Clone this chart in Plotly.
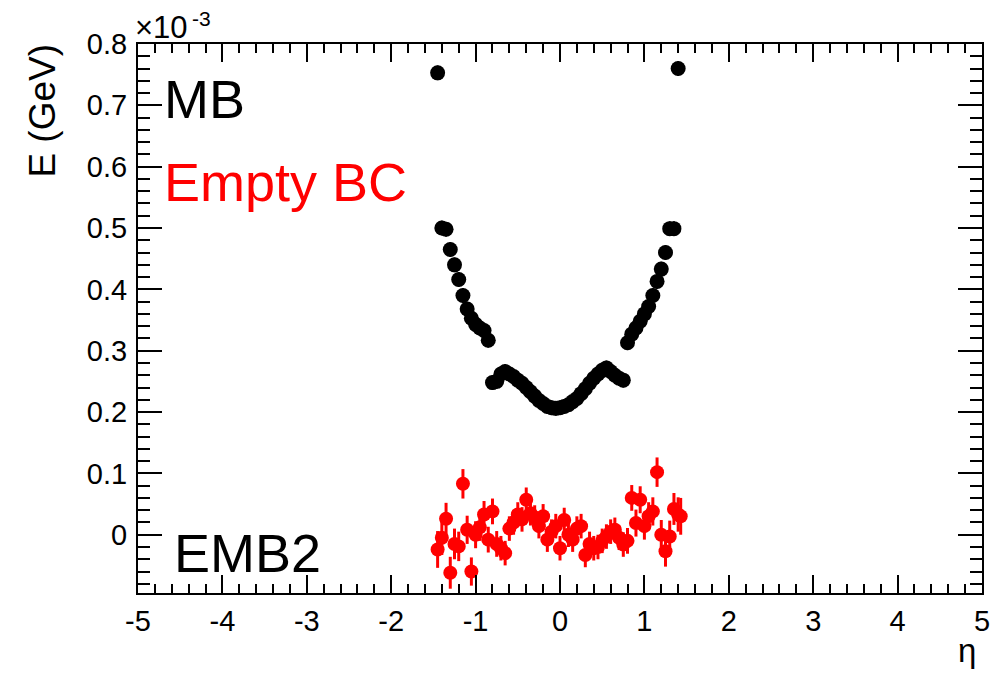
import plotly.graph_objects as go

# MB (black) — E in units of 1e-3 GeV
mb_eta = [-1.45, -1.40, -1.35, -1.30, -1.25, -1.20, -1.15, -1.10, -1.05, -1.00,
          -0.95, -0.90, -0.85, -0.80, -0.75, -0.70, -0.65, -0.60, -0.55, -0.50,
          -0.45, -0.40, -0.35, -0.30, -0.25, -0.20, -0.15, -0.10, -0.05, 0.00,
          0.05, 0.10, 0.15, 0.20, 0.25, 0.30, 0.35, 0.40, 0.45, 0.50,
          0.55, 0.60, 0.65, 0.70, 0.75, 0.80, 0.85, 0.90, 0.95, 1.00,
          1.05, 1.10, 1.15, 1.20, 1.25, 1.30, 1.35, 1.40]
mb_E = [0.753, 0.500, 0.498, 0.465, 0.440, 0.416, 0.390, 0.368, 0.353, 0.343,
        0.337, 0.333, 0.317, 0.248, 0.250, 0.262, 0.266, 0.262, 0.258, 0.252,
        0.247, 0.240, 0.233, 0.226, 0.219, 0.214, 0.209, 0.207, 0.206, 0.207,
        0.209, 0.212, 0.217, 0.222, 0.230, 0.238, 0.247, 0.255, 0.262, 0.268,
        0.272, 0.266, 0.260, 0.255, 0.252, 0.313, 0.327, 0.337, 0.348, 0.360,
        0.372, 0.390, 0.413, 0.433, 0.460, 0.499, 0.499, 0.760]
mb_err = [0.012] * len(mb_E)

# Empty BC (red)
bc_eta = [-1.45, -1.40, -1.35, -1.30, -1.25, -1.20, -1.15, -1.10, -1.05, -1.00,
          -0.95, -0.90, -0.85, -0.80, -0.75, -0.70, -0.65, -0.60, -0.55, -0.50,
          -0.45, -0.40, -0.35, -0.30, -0.25, -0.20, -0.15, -0.10, -0.05, 0.00,
          0.05, 0.10, 0.15, 0.20, 0.25, 0.30, 0.35, 0.40, 0.45, 0.50,
          0.55, 0.60, 0.65, 0.70, 0.75, 0.80, 0.85, 0.90, 0.95, 1.00,
          1.05, 1.10, 1.15, 1.20, 1.25, 1.30, 1.35, 1.40, 1.43]
bc_E = [-0.024, -0.005, 0.026, -0.062, -0.015, -0.019, 0.083, 0.008, -0.060, 0.000,
        0.012, 0.033, -0.008, 0.038, -0.015, -0.022, -0.030, 0.010, 0.020, 0.033,
        0.025, 0.057, 0.035, 0.028, 0.014, 0.030, -0.008, 0.005, 0.014, -0.022,
        0.024, 0.000, -0.008, 0.010, 0.014, -0.033, -0.015, -0.022, -0.020, -0.010,
        -0.003, 0.005, 0.008, -0.005, -0.016, -0.010, 0.060, 0.019, 0.057, 0.014,
        0.030, 0.038, 0.102, 0.000, -0.027, -0.003, 0.042, 0.033, 0.030]
bc_err = [0.030, 0.028, 0.026, 0.026, 0.025, 0.024, 0.024, 0.023, 0.023, 0.022,
          0.022, 0.022, 0.021, 0.021, 0.021, 0.020, 0.020, 0.020, 0.020, 0.020,
          0.020, 0.020, 0.020, 0.020, 0.020, 0.020, 0.020, 0.020, 0.020, 0.020,
          0.020, 0.020, 0.020, 0.020, 0.020, 0.020, 0.020, 0.020, 0.020, 0.020,
          0.020, 0.020, 0.020, 0.020, 0.020, 0.021, 0.021, 0.022, 0.022, 0.022,
          0.023, 0.023, 0.024, 0.024, 0.025, 0.026, 0.026, 0.028, 0.030]

x_tickvals = [-5, -4, -3, -2, -1, 0, 1, 2, 3, 4, 5]
x_ticktext = ["-5", "-4", "-3", "-2", "-1", "0", "1", "2", "3", "4", "5"]
y_tickvals = [0, 0.1, 0.2, 0.3, 0.4, 0.5, 0.6, 0.7, 0.8]
y_ticktext = ["0", "0.1", "0.2", "0.3", "0.4", "0.5", "0.6", "0.7", "0.8"]

FONT = "Liberation Sans, Arial, Helvetica, sans-serif"

fig = go.Figure()
fig.add_trace(go.Scatter(
    x=mb_eta, y=mb_E, mode="markers", name="MB",
    marker=dict(symbol="circle", size=15, color="black"),
    error_y=dict(type="data", array=mb_err, color="black", thickness=2, width=0),
))
fig.add_trace(go.Scatter(
    x=bc_eta, y=bc_E, mode="markers", name="Empty BC",
    marker=dict(symbol="circle", size=14, color="#ff0000"),
    error_y=dict(type="data", array=bc_err, color="#ff0000", thickness=3, width=0),
))

axis_common = dict(
    showline=True, linecolor="black", linewidth=2, mirror="ticks",
    ticks="inside", tickcolor="black", tickwidth=1.5,
    showgrid=False, zeroline=False,
    tickfont=dict(family=FONT, size=29, color="black"),
)

fig.update_xaxes(
    range=[-5, 5], tickmode="array", tickvals=x_tickvals, ticktext=x_ticktext,
    ticklen=18, ticklabelstandoff=1,
    minor=dict(ticks="inside", ticklen=9, dtick=0.2, tickcolor="black", tickwidth=1.5),
    **axis_common,
)
fig.update_yaxes(
    range=[-0.095, 0.8], tickmode="array", tickvals=y_tickvals, ticktext=y_ticktext,
    ticklen=24, ticklabelstandoff=3,
    minor=dict(ticks="inside", ticklen=12, dtick=0.02, tickcolor="black", tickwidth=1.5),
    **axis_common,
)

annots = [
    dict(text="MB", x=0.028, y=0.900, xanchor="left", yanchor="middle",
         font=dict(family=FONT, size=54, color="black")),
    dict(text="Empty BC", x=0.028, y=0.749, xanchor="left", yanchor="middle",
         font=dict(family=FONT, size=54, color="#ff0000")),
    dict(text="EMB2", x=0.040, y=0.073, xanchor="left", yanchor="middle",
         font=dict(family=FONT, size=54, color="black")),
    dict(text="E (GeV)", x=-0.113, y=0.878, xanchor="center", yanchor="middle",
         textangle=-90, font=dict(family=FONT, size=37, color="black")),
    dict(text="η", x=0.982, y=-0.105, xanchor="center", yanchor="middle",
         font=dict(family=FONT, size=33, color="black")),
    dict(text="×10", x=-0.006, y=0.995, xanchor="left", yanchor="bottom",
         font=dict(family=FONT, size=31, color="black")),
    dict(text="-3", x=0.0615, y=1.022, xanchor="left", yanchor="bottom",
         font=dict(family=FONT, size=21, color="black")),
]
for a in annots:
    fig.add_annotation(xref="paper", yref="paper", showarrow=False, **a)

# page body has an 8px margin: shrink the figure so the frame lands where the reference's does
fig.update_layout(
    width=992, height=667,
    margin=dict(l=130, r=10, t=36, b=82),
    plot_bgcolor="white", paper_bgcolor="white",
    showlegend=False,
    font=dict(family=FONT, color="black"),
)

fig.write_html("out.html")
